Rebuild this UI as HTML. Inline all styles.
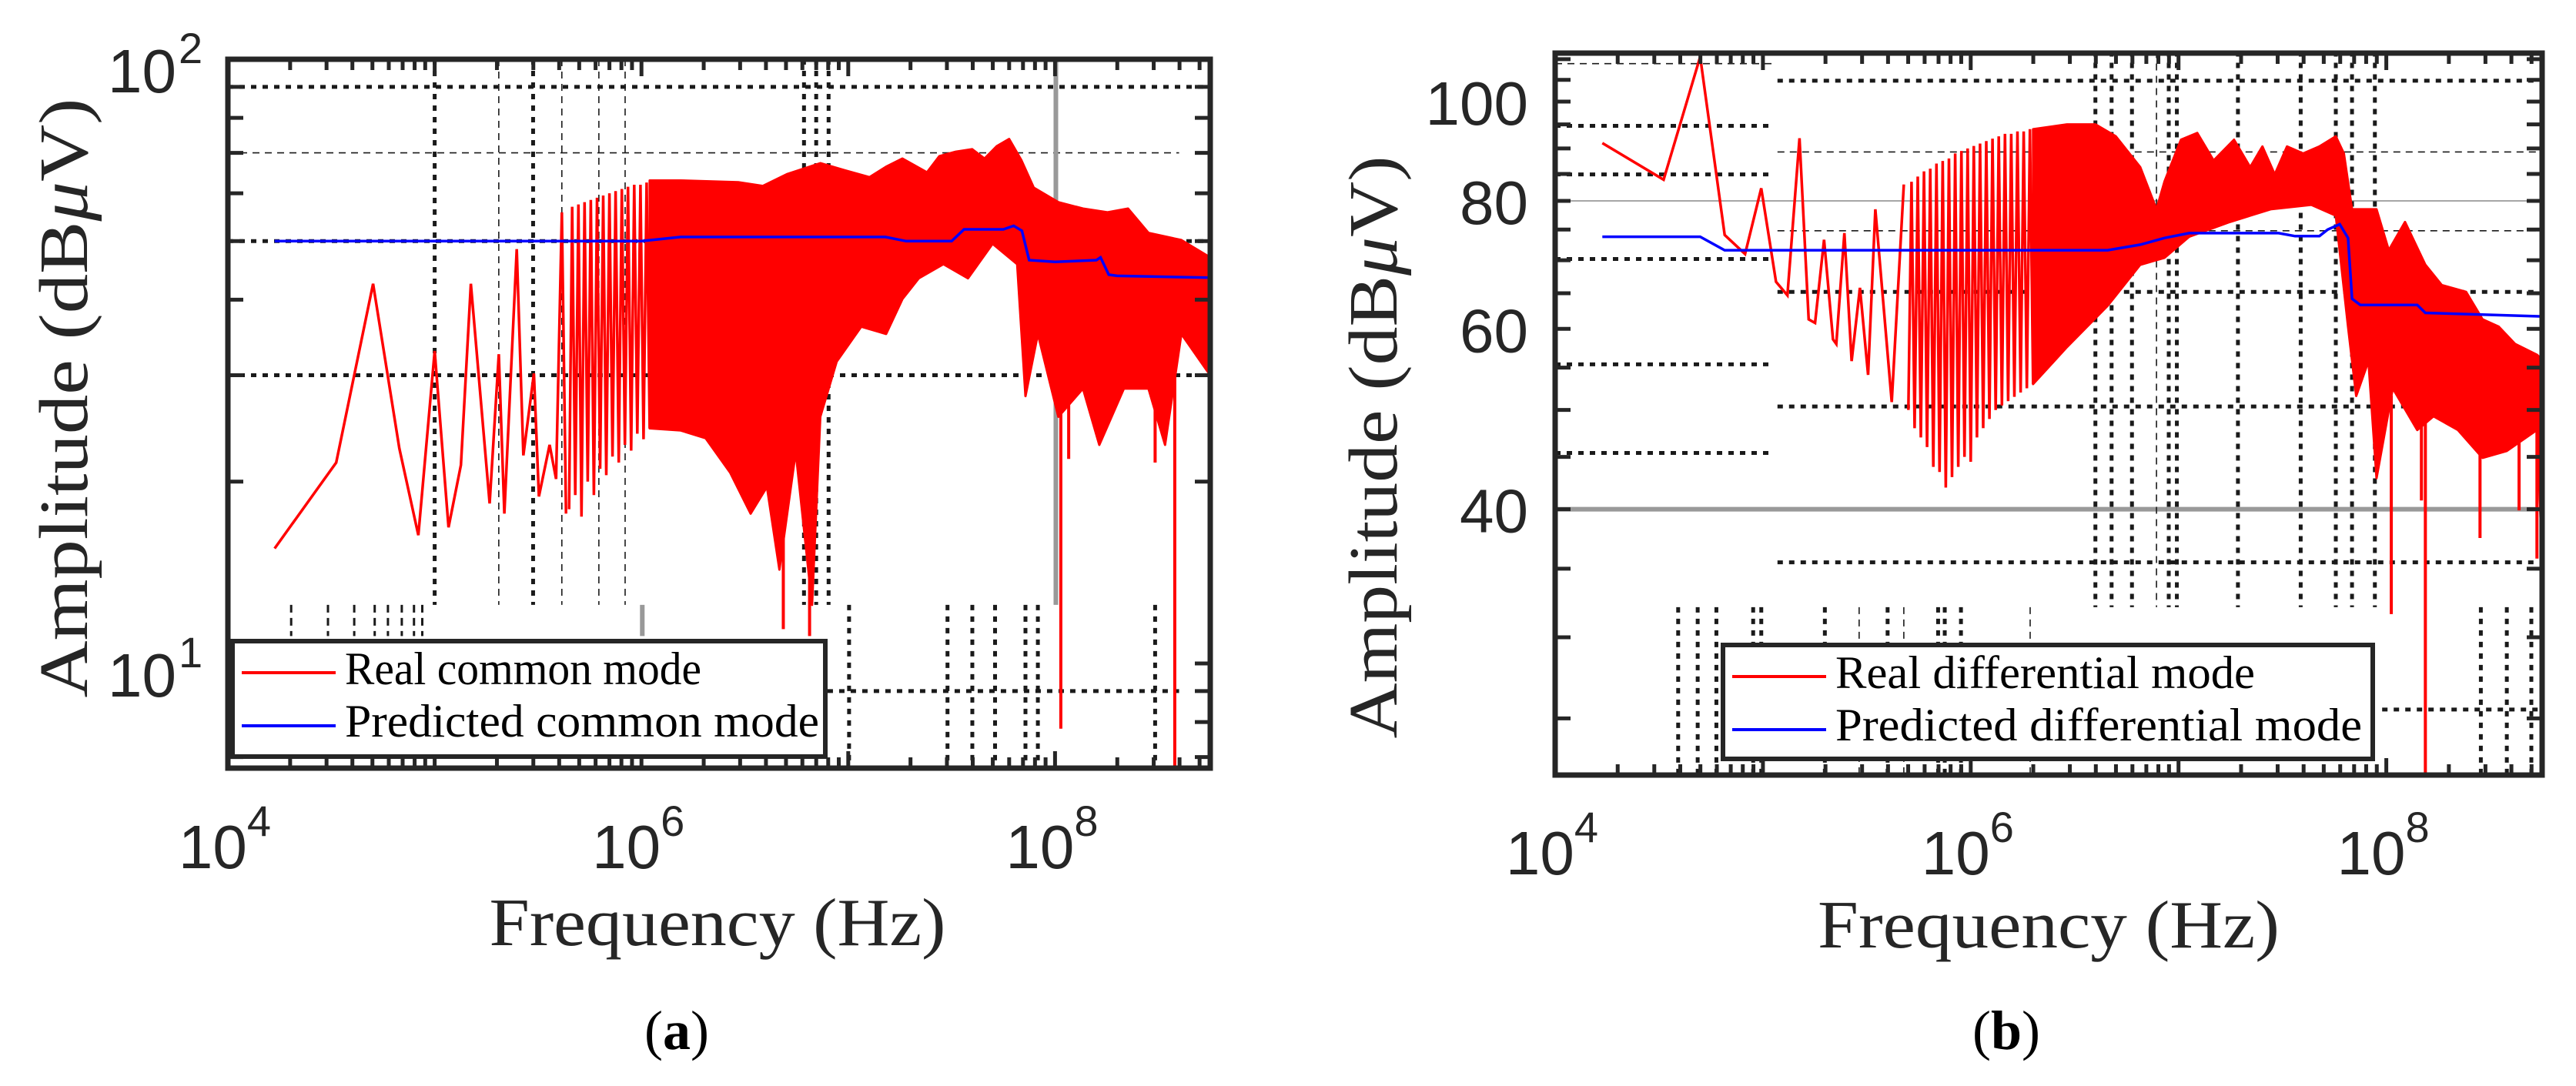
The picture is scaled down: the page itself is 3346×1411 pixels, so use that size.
<!DOCTYPE html>
<html><head><meta charset="utf-8"><style>
html,body{margin:0;padding:0;background:#fff;}
svg{display:block;}
</style></head>
<body>
<svg id="fig" xmlns="http://www.w3.org/2000/svg" width="3346" height="1411" viewBox="0 0 3346 1411">
<rect x="0" y="0" width="3346" height="1411" fill="#fff"/>
<defs>
<clipPath id="clipL"><rect x="296" y="77" width="1276" height="921"/></clipPath>
<clipPath id="clipR"><rect x="2020" y="69" width="1282" height="938"/></clipPath>
</defs>
<g id="panelL"></g>
<g id="panelR"></g>
<text x="932" y="1228" font-family="Liberation Serif, serif" font-size="88" fill="#262626" text-anchor="middle" textLength="593" lengthAdjust="spacingAndGlyphs">Frequency (Hz)</text>
<text x="2661" y="1231" font-family="Liberation Serif, serif" font-size="88" fill="#262626" text-anchor="middle" textLength="600" lengthAdjust="spacingAndGlyphs">Frequency (Hz)</text>
<text transform="translate(113,517) rotate(-90)" font-family="Liberation Serif, serif" font-size="90" fill="#262626" text-anchor="middle" textLength="779" lengthAdjust="spacingAndGlyphs">Amplitude (dB<tspan font-style="italic">μ</tspan>V)</text>
<text transform="translate(1814,581) rotate(-90)" font-family="Liberation Serif, serif" font-size="90" fill="#262626" text-anchor="middle" textLength="757" lengthAdjust="spacingAndGlyphs">Amplitude (dB<tspan font-style="italic">μ</tspan>V)</text>
<text x="879" y="1363" font-family="Liberation Serif, serif" font-size="72" fill="#000" text-anchor="middle">(<tspan font-weight="bold">a</tspan>)</text>
<text x="2606" y="1363" font-family="Liberation Serif, serif" font-size="72" fill="#000" text-anchor="middle">(<tspan font-weight="bold">b</tspan>)</text>
</svg>
<script>
// ---------- Data: panel (a) common mode ----------
const cmRealLogF = [4.226,4.524,4.702,4.829,4.921,5.0,5.067,5.127,5.175,5.266,5.31,5.337,5.397,5.429,5.48,5.504,5.556,5.587,5.615,5.635];
const cmRealAmp  = [15.5,21.5,42.5,22.7,16.3,32.9,16.8,21.3,42.5,18.4,32.5,17.7,48.5,22.1,30.2,18.9,23.0,20.2,55.8,17.7];
const cmCombLogF = [5.65,5.68,5.71,5.74,5.77,5.80,5.83,5.86,5.89,5.92,5.95,5.98,6.01,6.04];
const cmCombTop  = [57,57.5,58,58.5,59,59.5,60,60.5,61,61.5,62,62,62.5,63];
const cmCombBottom = [18,19,17.5,20,19,21,20.5,22,21.5,23,22.5,24,23.5,24.5];
const cmUpperLogF = [6.04,6.19,6.468,6.587,6.706,6.865,6.984,7.103,7.183,7.262,7.381,7.44,7.52,7.599,7.659,7.718,7.778,7.837,7.897,8.016,8.135,8.254,8.353,8.452,8.611,8.75];
const cmUpperAmp  = [63.0,63.0,62.6,61.7,64.6,67.3,65.5,63.8,66.4,68.5,65.0,69.1,70.3,71.0,68.5,71.8,73.8,68.1,61.3,58.0,56.6,55.8,56.6,51.6,50.2,47.0];
const cmLowerLogF = [6.04,6.19,6.31,6.429,6.528,6.607,6.667,6.746,6.825,6.865,6.944,7.063,7.183,7.262,7.341,7.46,7.579,7.698,7.817,7.857,7.917,8.016,8.135,8.214,8.333,8.452,8.532,8.611,8.75];
const cmLowerAmp  = [24.5,24.3,23.6,20.7,17.7,19.6,14.3,22.4,12.5,25.6,31.6,36.1,35.1,40.1,43.4,45.8,43.4,49.5,45.8,27.7,35.1,25.6,28.5,23.0,28.5,28.5,23.0,35.1,30.0];
const cmSpikeLogF = [6.686,6.813,8.028,8.579,8.066,8.484];
const cmSpikeAmp  = [11.4,11.1,7.8,6.6,21.8,21.5];
const cmPredLogF = [4.226,6.0,6.19,7.18,7.28,7.5,7.56,7.75,7.8,7.84,7.875,8.0,8.2,8.22,8.26,8.3,8.75];
const cmPredAmp  = [50,50,50.8,50.8,50,50,52.3,52.3,53,52,46.5,46.2,46.5,47,44,43.8,43.5];
const cmYTickLabels = ["1","2"];
const cmXTickLabels = ["4","6","8"];

// ---------- Data: panel (b) differential mode ----------
const dmRealLogF = [4.227,4.522,4.698,4.816,4.914,4.992,5.063,5.118,5.176,5.22,5.251,5.294,5.337,5.353,5.392,5.427,5.467,5.506,5.541,5.62,5.678];
const dmRealAmp  = [91.1,83.9,110.6,74.1,71.0,82.3,66.7,64.7,92.1,61.3,60.8,73.3,58.6,58.0,74.4,55.8,65.8,54.1,78.5,50.9,83.0];
const dmCombLogF = [5.70,5.73,5.76,5.79,5.82,5.85,5.88,5.91,5.94,5.97,6.00,6.03,6.06,6.09,6.12,6.15,6.18,6.21,6.24,6.27,6.30];
const dmCombTop  = [83.5,84.5,85.5,86,87,87.5,88,89,89.5,90,90.5,91,91.5,92,92.5,93,93,93.5,93.5,94,94];
const dmCombBottom = [50,48,47,46,44,43.5,42,43,44,45,44.5,47,48,49,50,50.5,51,51.5,52,52.5,53];
const dmUpperLogF = [6.3,6.463,6.6,6.698,6.816,6.894,6.933,7.012,7.09,7.169,7.267,7.345,7.404,7.463,7.522,7.6,7.678,7.757,7.796,7.835,7.953,8.012,8.09,8.188,8.267,8.384,8.463,8.541,8.62,8.725,8.75];
const dmUpperAmp  = [94.0,95.0,95.0,92.5,86.3,78.5,83.6,91.8,93.2,87.6,91.8,86.3,90.4,84.9,90.4,89.0,90.4,92.5,89.0,78.5,78.5,71.6,76.3,69.3,66.2,65.2,61.3,60.3,58.0,56.6,56.0];
const dmLowerLogF = [6.3,6.463,6.659,6.816,6.933,7.051,7.247,7.443,7.639,7.757,7.816,7.855,7.914,7.953,8.031,8.149,8.227,8.345,8.463,8.58,8.725,8.75];
const dmLowerAmp  = [53.0,57.6,63.2,69.3,70.4,73.8,76.3,78.5,79.3,77.4,60.3,51.6,55.8,42.9,52.5,47.8,49.3,47.8,44.9,45.6,47.8,36.0];
const dmSpikeLogF = [8.024,8.188,8.451,8.639,8.725,8.169];
const dmSpikeAmp  = [31.6,20.0,37.5,39.9,35.8,40.8];
const dmPredLogF = [4.227,4.698,4.816,6.659,6.816,6.933,7.051,7.482,7.561,7.678,7.718,7.776,7.816,7.835,7.875,8.149,8.188,8.75];
const dmPredAmp  = [73.8,73.8,71.6,71.6,72.5,73.6,74.4,74.4,73.9,73.9,75.0,75.9,73.6,64.2,63.3,63.3,62.2,61.7];
const dmYTickLabels = ["40","60","80","100"];
const dmYTickValues = [40,60,80,100];
const dmXTickLabels = ["4","6","8"];

// ---------- Rendering ----------
const NS = "http://www.w3.org/2000/svg";
function el(tag, attrs, parent){
  const e = document.createElementNS(NS, tag);
  for (const k in attrs) e.setAttribute(k, attrs[k]);
  parent.appendChild(e);
  return e;
}
const INK = "#262626";

function makeAxis(cfg){
  const x = lg => cfg.x0 + (lg - cfg.lgMin) * cfg.dec;
  const y = a => cfg.yRef + (cfg.lgRef - Math.log10(a)) * cfg.ydec;
  return {x, y};
}

function interp(xs, ys, v){
  if (v <= xs[0]) return ys[0];
  for (let i = 1; i < xs.length; i++){
    if (v <= xs[i]){ const t = (v - xs[i-1])/(xs[i]-xs[i-1]); return ys[i-1] + t*(ys[i]-ys[i-1]); }
  }
  return ys[ys.length-1];
}

function drawPanel(root, cfg, d){
  const ax = makeAxis(cfg);
  const X0 = cfg.x0, X1 = cfg.x1, Y0 = cfg.yTop, Y1 = cfg.yBot;
  const gGrid = el("g", {"clip-path": cfg.clip}, root);
  
  
  const styles = {
    dot: {stroke:"#1a1a1a","stroke-width":5,"stroke-dasharray":"7 8"},
    thin: {stroke:"#1a1a1a","stroke-width":1.6,"stroke-dasharray":"9 7"},
    gray: {stroke:"#999","stroke-width":6},
    grayThin: {stroke:"#888","stroke-width":1.5},
    dash: {stroke:"#1a1a1a","stroke-width":3,"stroke-dasharray":"10 7"}
  };
  d.hGrid.forEach(g => {
    const ln = el("line", Object.assign({x1:ax.x(g[1]), x2:ax.x(g[2]), y1:ax.y(g[0]), y2:ax.y(g[0])}, styles[g[3]]), gGrid);
    
    
  });
  d.vGrid.forEach(g => {
    const ln = el("line", Object.assign({x1:ax.x(g[0]), x2:ax.x(g[0]), y1:ax.y(g[1]), y2:ax.y(g[2])}, styles[g[3]]), gGrid);
    
    
  });

  const gData = el("g", {"clip-path": cfg.clip}, root);
  
  
  // band
  let pd = "";
  d.upF.forEach((f,i) => { pd += (i?"L":"M") + ax.x(f).toFixed(1) + "," + ax.y(d.upA[i]).toFixed(1); });
  for (let i = d.loF.length-1; i >= 0; i--) pd += "L" + ax.x(d.loF[i]).toFixed(1) + "," + ax.y(d.loA[i]).toFixed(1);
  pd += "Z";
  const band = el("path", {d:pd, fill:"#ff0000", stroke:"#ff0000", "stroke-width":3, "stroke-linejoin":"round"}, gData);
  
  
  // low freq real line
  const rp = d.rF.map((f,i) => ax.x(f).toFixed(1)+","+ax.y(d.rA[i]).toFixed(1)).join(" ");
  const rl = el("polyline", {points:rp, fill:"none", stroke:"#ff0000", "stroke-width":3.5, "stroke-linejoin":"miter"}, gData);
  
  
  // comb (resonance spikes)
  const cpts = [];
  d.cF.forEach((f,i) => {
    cpts.push(ax.x(f).toFixed(1)+","+ax.y(d.cB[i]).toFixed(1));
    cpts.push(ax.x(f+0.015).toFixed(1)+","+ax.y(d.cT[i]).toFixed(1));
  });
  const comb = el("polyline", {points:cpts.join(" "), fill:"none", stroke:"#ff0000", "stroke-width":3.5, "stroke-linejoin":"miter"}, gData);
  
  
  // spikes
  d.sF.forEach((f,i) => {
    const top = interp(d.loF, d.loA, f);
    const s = el("line", {x1:ax.x(f), x2:ax.x(f), y1:ax.y(top), y2:ax.y(d.sA[i]), stroke:"#ff0000", "stroke-width":4}, gData);
    
    
  });
  // predicted
  const bp = d.pF.map((f,i) => ax.x(f).toFixed(1)+","+ax.y(d.pA[i]).toFixed(1)).join(" ");
  const bl = el("polyline", {points:bp, fill:"none", stroke:"#0000ff", "stroke-width":3.5}, gData);
  
  

  // ticks
  const gT = el("g", {stroke:INK, "stroke-width":5}, root);
  
  
  for (let dcd = 4; dcd <= 8; dcd++){
    for (let m = 1; m <= 9; m++){
      const lg = dcd + Math.log10(m);
      if (lg > cfg.lgMax) continue;
      const xx = ax.x(lg), L = (m===1)?22:14;
      el("line", {x1:xx, x2:xx, y1:Y1, y2:Y1-L}, gT);
      el("line", {x1:xx, x2:xx, y1:Y0, y2:Y0+L}, gT);
    }
  }
  d.yTicks.forEach(v => {
    const yy = ax.y(v);
    if (yy < Y0 - 1 || yy > Y1 + 1) return;
    el("line", {x1:X0, x2:X0+20, y1:yy, y2:yy}, gT);
    el("line", {x1:X1, x2:X1-20, y1:yy, y2:yy}, gT);
  });

  // box
  const box = el("rect", {x:X0, y:Y0, width:X1-X0, height:Y1-Y0, fill:"none", stroke:INK, "stroke-width":7}, root);
  
  

  // x tick labels
  d.xLabels.forEach(lab => {
    const lg = parseFloat(lab);
    const t = el("text", {x:ax.x(lg)-4, y:cfg.xLabY, "font-family":"Liberation Sans, sans-serif", "font-size":80, fill:INK, "text-anchor":"middle"}, root);
    
    
    t.textContent = "10";
    const s = el("tspan", {dx:0, dy:-42, "font-size":56}, t);
    s.textContent = lab;
  });
  // y tick labels
  if (cfg.logLabels){
    d.yLabels.forEach(lab => {
      const yy = ax.y(Math.pow(10, parseFloat(lab)));
      const t = el("text", {x:229, y:yy+43, "font-family":"Liberation Sans, sans-serif", "font-size":80, fill:INK, "text-anchor":"end"}, root);
      
      
      t.textContent = "10";
      const s = el("text", {x:232, y:yy+5, "font-family":"Liberation Sans, sans-serif", "font-size":56, fill:INK}, root);
      
      
      s.textContent = lab;
    });
  } else {
    d.yLabels.forEach((lab,i) => {
      const yy = ax.y(d.yLabelVals[i]);
      const t = el("text", {x:1985, y:yy+30, "font-family":"Liberation Sans, sans-serif", "font-size":80, fill:INK, "text-anchor":"end"}, root);
      
      
      t.textContent = lab;
    });
  }

  // legend
  const lg = cfg.legend;
  const gL = el("g", {}, root);
  
  
  el("rect", {x:lg.x, y:lg.y, width:lg.w, height:lg.h, fill:"#fff", stroke:INK, "stroke-width":6}, gL);
  const l1 = el("line", {x1:lg.x+12, x2:lg.x+134, y1:lg.y+41, y2:lg.y+41, stroke:"#ff0000", "stroke-width":4}, gL);
  
  
  const l2 = el("line", {x1:lg.x+12, x2:lg.x+134, y1:lg.y+110, y2:lg.y+110, stroke:"#0000ff", "stroke-width":4}, gL);
  
  
  const t1 = el("text", {x:lg.x+146, y:lg.y+56, "font-family":"Liberation Serif, serif", "font-size":60, fill:"#000", textLength:lg.t1, lengthAdjust:"spacingAndGlyphs"}, gL);
  
  
  t1.textContent = lg.s1;
  const t2 = el("text", {x:lg.x+146, y:lg.y+124, "font-family":"Liberation Serif, serif", "font-size":60, fill:"#000", textLength:lg.t2, lengthAdjust:"spacingAndGlyphs"}, gL);
  
  
  t2.textContent = lg.s2;
}

const yTicksL = [];
[6,7,8,9].forEach(v => yTicksL.push(v));
[10,20,30,40,50,60,70,80,90,100].forEach(v => yTicksL.push(v));
const yTicksR = [];
for (let v = 25; v <= 110; v += 5) yTicksR.push(v);

drawPanel(document.getElementById("panelL"), {
  x0:296, x1:1572, yTop:77, yBot:998, lgMin:4, lgMax:8.75, dec:268.6,
  yRef:77, lgRef:2, ydec:785, clip:"url(#clipL)", xLabY:1128, logLabels:true,
  legend:{x:302, y:833, w:770, h:150, s1:"Real common mode", s2:"Predicted common mode", t1:463, t2:616}
}, {
  rF:cmRealLogF, rA:cmRealAmp, cF:cmCombLogF, cT:cmCombTop, cB:cmCombBottom,
  upF:cmUpperLogF, upA:cmUpperAmp, loF:cmLowerLogF, loA:cmLowerAmp,
  sF:cmSpikeLogF, sA:cmSpikeAmp, pF:cmPredLogF, pA:cmPredAmp,
  yTicks:yTicksL, xLabels:cmXTickLabels, yLabels:cmYTickLabels,
  hGrid:[[90,4,8.75,"dot"],[50,4,8.75,"dot"],[30,4,8.75,"dot"],[70,4,8.6,"thin"],[9,6.9,8.6,"dot"]],
  vGrid:[[5.0,100,12.5,"dot"],[5.476,100,12.5,"dot"],[6.786,100,12.5,"dot"],[6.845,100,12.5,"dot"],[6.905,100,12.5,"dot"],
    [5.31,100,12.5,"thin"],[5.615,100,12.5,"thin"],[5.794,100,12.5,"thin"],[5.921,100,12.5,"thin"],
    [6.004,12.5,11.1,"gray"],[8.004,100,12.5,"gray"],
    [7.004,12.5,6,"dot"],[7.48,12.5,6,"dot"],[7.6,12.5,6,"dot"],[7.71,12.5,6,"dot"],[7.857,12.5,6,"dot"],[7.917,12.5,6,"dot"],[8.484,12.5,6,"dot"],
    [4.306,12.5,11.1,"dash"],[4.484,12.5,11.1,"dash"],[4.611,12.5,11.1,"dash"],[4.71,12.5,11.1,"dash"],[4.774,12.5,11.1,"dash"],[4.841,12.5,11.1,"dash"],[4.9,12.5,11.1,"dash"],[4.94,12.5,11.1,"dash"]]
});

drawPanel(document.getElementById("panelR"), {
  x0:2020, x1:3302, yTop:69, yBot:1007, lgMin:4, lgMax:8.75, dec:269.9,
  yRef:132, lgRef:2, ydec:1331, clip:"url(#clipR)", xLabY:1136, logLabels:false,
  legend:{x:2238, y:838, w:844, h:148, s1:"Real differential mode", s2:"Predicted differential mode", t1:545, t2:684}
}, {
  rF:dmRealLogF, rA:dmRealAmp, cF:dmCombLogF, cT:dmCombTop, cB:dmCombBottom,
  upF:dmUpperLogF, upA:dmUpperAmp, loF:dmLowerLogF, loA:dmLowerAmp,
  sF:dmSpikeLogF, sA:dmSpikeAmp, pF:dmPredLogF, pA:dmPredAmp,
  yTicks:yTicksR, xLabels:dmXTickLabels, yLabels:dmYTickLabels, yLabelVals:dmYTickValues,
  hGrid:[[94.7,4,5.05,"dot"],[84.9,4,5.05,"dot"],[70.2,4,5.05,"dot"],[55.4,4,5.05,"dot"],[45.4,4,5.05,"dot"],[108.9,4,5.05,"thin"],
    [104.8,5.07,8.75,"dot"],[65.2,5.07,8.75,"dot"],[50.4,5.07,8.75,"dot"],[35.5,5.07,8.75,"dot"],[25.5,7.98,8.75,"dot"],
    [89.3,5.07,8.75,"thin"],[74.8,5.07,8.75,"thin"],[80,4,8.75,"grayThin"],[40,4,8.75,"gray"]],
  vGrid:[[6.6,112,32.1,"dot"],[6.678,112,32.1,"dot"],[6.776,112,32.1,"dot"],[6.894,112,32.1,"thin"],[6.953,112,32.1,"dot"],[6.992,112,32.1,"dot"],
    [7.286,112,32.1,"dot"],[7.588,112,32.1,"dot"],[7.757,112,32.1,"dot"],[7.835,112,32.1,"dot"],[7.945,112,32.1,"dot"],
    [4.592,32.1,21,"dot"],[4.686,32.1,21,"dot"],[4.776,32.1,21,"dot"],[4.953,32.1,21,"dot"],[4.992,32.1,21,"dot"],[5.298,32.1,21,"dot"],
    [5.463,32.1,21,"thin"],[5.6,32.1,21,"dot"],[5.678,32.1,21,"thin"],[5.843,32.1,21,"dot"],[5.875,32.1,21,"dot"],[5.953,32.1,21,"dot"],[6.286,32.1,21,"thin"],
    [8.455,32.1,21,"dot"],[8.58,32.1,21,"dot"],[8.698,32.1,21,"dot"]]
});
</script>
</body></html>
